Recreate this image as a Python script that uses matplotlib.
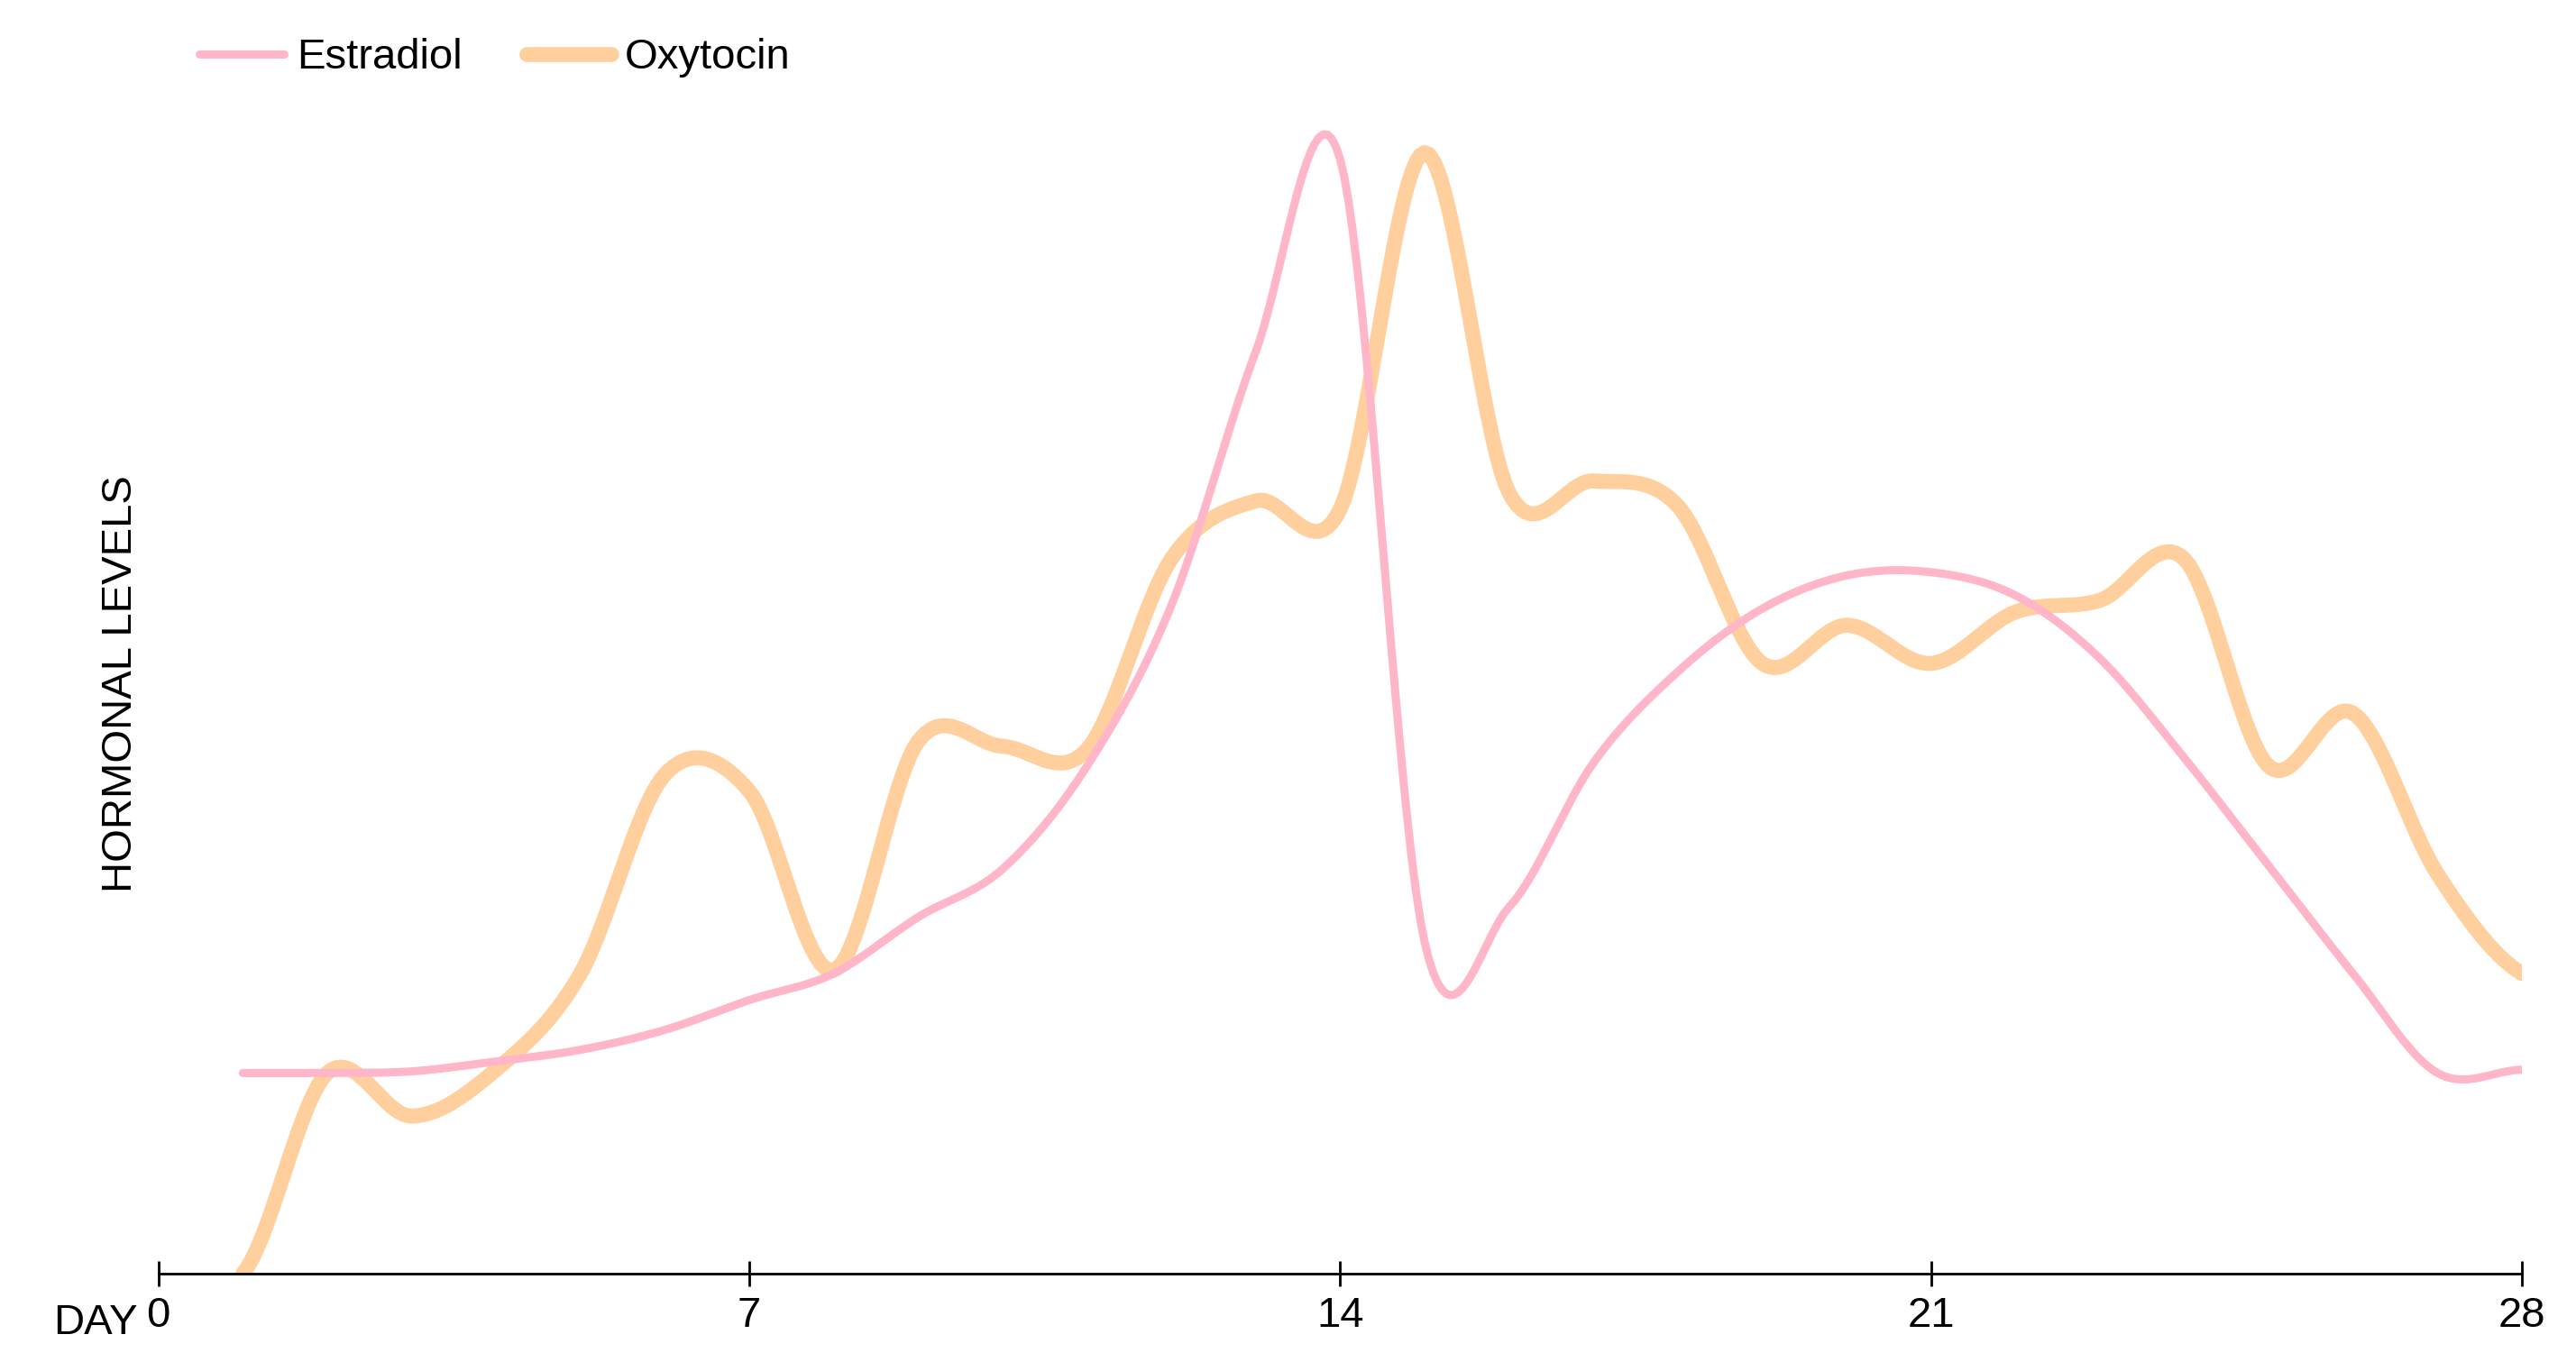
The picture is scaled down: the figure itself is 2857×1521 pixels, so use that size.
import numpy as np
import matplotlib.pyplot as plt

plt.rcParams['font.family'] = ['Liberation Sans', 'DejaVu Sans']

days = list(range(1, 29))
estradiol = [121, 121, 122, 128, 135, 147, 165, 181, 215, 244, 306, 403, 556, 672,
             200, 221, 308, 363, 401, 421, 423, 409, 371, 311, 246, 181, 121, 123]
oxytocin = [0, 121, 95, 123, 181, 301, 291, 183, 321, 318, 316, 431, 466, 461,
            676, 471, 478, 463, 368, 391, 368, 399, 406, 431, 306, 338, 241, 181]


def smooth(x, y, n=20):
    # catmull-rom through every point
    x = np.asarray(x, float)
    y = np.asarray(y, float)
    px = np.concatenate([[2 * x[0] - x[1]], x, [2 * x[-1] - x[-2]]])
    py = np.concatenate([[y[0]], y, [y[-1]]])
    xs, ys = [], []
    for i in range(1, len(px) - 2):
        t = np.linspace(0, 1, n, endpoint=False)
        for p, out in ((px, xs), (py, ys)):
            p0, p1, p2, p3 = p[i - 1], p[i], p[i + 1], p[i + 2]
            out.extend(0.5 * (2 * p1 + (-p0 + p2) * t + (2 * p0 - 5 * p1 + 4 * p2 - p3) * t ** 2
                              + (-p0 + 3 * p1 - 3 * p2 + p3) * t ** 3))
    xs.append(x[-1])
    ys.append(y[-1])
    return np.array(xs), np.array(ys)


fig = plt.figure(figsize=(28.57, 15.21), dpi=100)
ax = fig.add_axes([0.0615, 0.071, 0.9175, 0.86])

ex, ey = smooth(days, estradiol)
ox, oy = smooth(days, oxytocin)
ax.plot(ex, ey, color='#ffb6c8', lw=6.5, label='Estradiol', solid_capstyle='round', zorder=3)
ax.plot(ox, oy, color='#ffd09e', lw=12, label='Oxytocin', solid_capstyle='round', zorder=2)

ax.set_xlim(0, 28)
ax.set_ylim(0, 711)
ax.set_xticks([0, 7, 14, 21, 28])
ax.set_yticks([])
for s in ('left', 'top', 'right'):
    ax.spines[s].set_visible(False)
ax.spines['bottom'].set_linewidth(2)
ax.tick_params(axis='x', labelsize=34, length=20, width=2, pad=8, direction='inout')
ax.set_ylabel('HORMONAL LEVELS', fontsize=34, labelpad=14)
ax.text(-0.25, -0.025, 'DAY', transform=ax.get_xaxis_transform(), fontsize=34,
        ha='right', va='top')
ax.legend(loc='lower left', bbox_to_anchor=(0.01, 1.0), ncol=2, frameon=False,
          fontsize=34, handlelength=2.0, handletextpad=0.3, columnspacing=1.5,
          borderaxespad=0)

fig.savefig('out.png')
